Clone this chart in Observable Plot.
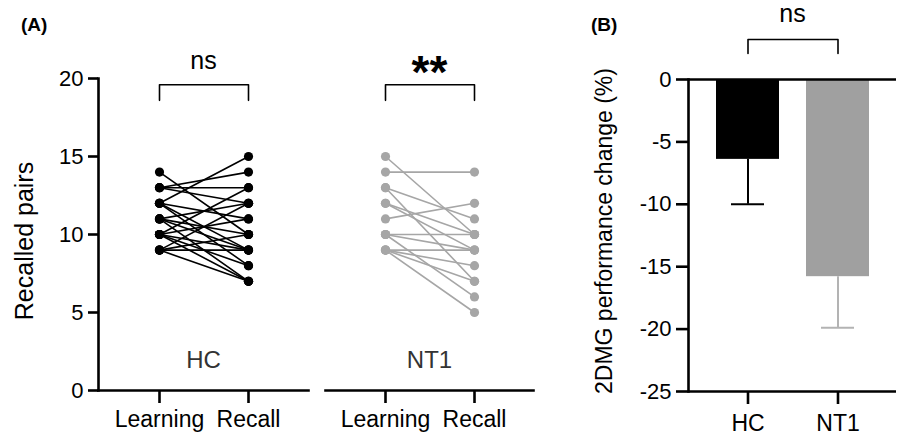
<!DOCTYPE html>
<html><head><meta charset="utf-8">
<script src="https://cdn.jsdelivr.net/npm/d3@7"></script>
<script src="https://cdn.jsdelivr.net/npm/@observablehq/plot@0.6"></script>
<style>
body{margin:0;background:#fff;}
#fig{position:relative;width:899px;height:439px;font-family:"Liberation Sans",Arial,sans-serif;overflow:hidden;background:#fff;}
#fig svg{position:absolute;top:0;overflow:visible;}
.lbl{position:absolute;white-space:nowrap;color:#000;line-height:1;}
.rot{transform:translate(-50%,-50%) rotate(-90deg);}
</style></head><body><div id="fig"></div>
<script>
// ---------- data ----------
const groups = ["HC", "NT1"];
const phases = ["Learning", "Recall"];
const yTicksA = [0, 5, 10, 15, 20];
const yTicksB = [-25, -20, -15, -10, -5, 0];
const hcLearning = [14, 13, 13, 13, 12, 12, 12, 12, 11, 11, 11, 11, 10, 10, 10, 10, 10, 9, 9, 9, 9];
const hcRecall   = [10, 13, 14, 12, 15, 11, 9, 8, 12, 10, 9, 7, 13, 11, 9, 8, 7, 12, 10, 9, 7];
const nt1Learning = [15, 14, 13, 13, 12, 12, 11, 10, 10, 10, 9, 9, 9, 9];
const nt1Recall   = [10, 14, 11, 7, 10, 9, 12, 10, 9, 6, 9, 8, 7, 5];
const changeMean  = [-6.4, -15.8];
const changeLower = [-10.0, -19.9];
const sigA = ["ns", "**"];
const sigB = "ns";

// ---------- helpers ----------
const FONT = "Liberation Sans, Arial, sans-serif";
const fig = document.getElementById("fig");
const AX = 2.6;

function pairRows(learn, recall, group) {
  const rows = [];
  learn.forEach((v, i) => {
    rows.push({id: i, group, phase: phases[0], value: v});
    rows.push({id: i, group, phase: phases[1], value: recall[i]});
  });
  return rows;
}

function place(svg, left) {
  svg.style.left = left + "px";
  fig.appendChild(svg);
}

function panelA(gi, learn, recall, color, o) {
  const rows = pairRows(learn, recall, groups[gi]);
  const bracket = [
    {phase: phases[0], v: 18.6}, {phase: phases[0], v: 19.6},
    {phase: phases[1], v: 19.6}, {phase: phases[1], v: 18.6}
  ];
  const bold = sigA[gi] === "**";
  const marks = [
    Plot.line(rows, {x: "phase", y: "value", z: "id", stroke: color, strokeWidth: 1.6}),
    Plot.dot(rows, {x: "phase", y: "value", r: 4.6, fill: color}),
    Plot.frame({anchor: "bottom", strokeWidth: AX}),
    Plot.axisX({tickSize: 13, tickPadding: 7, fontSize: 23, strokeWidth: AX, label: null}),
    Plot.text([groups[gi]], {text: d => d, y: () => 1.47, lineAnchor: "bottom", fontSize: 24, fill: "#333"}),
    Plot.line(bracket, {x: "phase", y: "v", stroke: "#000", strokeWidth: 1.6}),
    Plot.text([sigA[gi]], {text: d => d, y: () => bold ? 19.42 : 20.6, lineAnchor: "bottom",
      fontSize: bold ? 46 : 25, fontWeight: bold ? "bold" : "normal", fill: "#000"})
  ];
  if (o.showY) {
    marks.push(Plot.frame({anchor: "left", strokeWidth: AX}));
    marks.push(Plot.axisY({ticks: yTicksA, tickSize: 10, tickPadding: 5, fontSize: 22, strokeWidth: AX, label: null}));
  }
  const svg = Plot.plot({
    width: o.width, height: 439,
    marginLeft: o.marginLeft, marginRight: 0, marginTop: 78, marginBottom: 49,
    x: {type: "point", domain: phases, padding: 0.667},
    y: {domain: [0, 20], axis: o.showY ? undefined : null},
    style: {fontFamily: FONT, color: "#000", background: "transparent", overflow: "visible"},
    marks
  });
  place(svg, o.left);
}

panelA(0, hcLearning, hcRecall, "#000", {left: 0, width: 308, marginLeft: 98, showY: true});
panelA(1, nt1Learning, nt1Recall, "#a6a6a6", {left: 325, width: 208, marginLeft: 0, showY: false});

// ---------- panel B ----------
const barColors = ["#000", "#a0a0a0"];
const errColors = ["#000", "#b3b3b3"];
const rowsB = groups.map((g, i) => ({group: g, mean: changeMean[i], lower: changeLower[i]}));
const marksB = [];
rowsB.forEach((r, i) => {
  marksB.push(Plot.barY([r], {x: "group", y: "mean", fill: barColors[i]}));
  marksB.push(Plot.ruleX([r], {x: "group", y1: "mean", y2: "lower", stroke: errColors[i], strokeWidth: 2}));
  marksB.push(Plot.tickY([r], {x: "group", y: "lower", inset: 15, stroke: errColors[i], strokeWidth: 2}));
});
const bracketB = [
  {group: groups[0], v: 2.08}, {group: groups[0], v: 3.2},
  {group: groups[1], v: 3.2}, {group: groups[1], v: 2.08}
];
marksB.push(
  Plot.ruleY([0, -25], {strokeWidth: AX}),
  Plot.frame({anchor: "left", strokeWidth: AX}),
  Plot.axisY({ticks: yTicksB, tickFormat: d => String(d), tickSize: 12, tickPadding: 5, fontSize: 22, strokeWidth: AX, label: null}),
  Plot.axisX({tickSize: 13, tickPadding: 10, fontSize: 23, strokeWidth: AX, label: null}),
  Plot.line(bracketB, {x: "group", y: "v", stroke: "#000", strokeWidth: 1.6}),
  Plot.text([sigB], {text: d => d, y: () => 4.57, lineAnchor: "bottom", fontSize: 25, fill: "#000"})
);
const svgB = Plot.plot({
  width: 339, height: 439,
  marginLeft: 128, marginRight: 3, marginTop: 79, marginBottom: 48,
  x: {type: "band", domain: groups, padding: 0.3},
  y: {domain: [-25, 0]},
  style: {fontFamily: FONT, color: "#000", background: "transparent", overflow: "visible"},
  marks: marksB
});
place(svgB, 560);

// ---------- panel letters and axis titles ----------
function label(text, css, cls) {
  const d = document.createElement("div");
  d.className = "lbl" + (cls ? " " + cls : "");
  d.textContent = text;
  Object.assign(d.style, css);
  fig.appendChild(d);
}
label("(A)", {left: "21px", top: "15px", fontSize: "19px", fontWeight: "bold"});
label("(B)", {left: "591px", top: "15px", fontSize: "19px", fontWeight: "bold"});
label("Recalled pairs", {left: "24px", top: "241px", fontSize: "25px"}, "rot");
label("2DMG performance change (%)", {left: "604px", top: "231px", fontSize: "23px"}, "rot");
</script></body></html>
